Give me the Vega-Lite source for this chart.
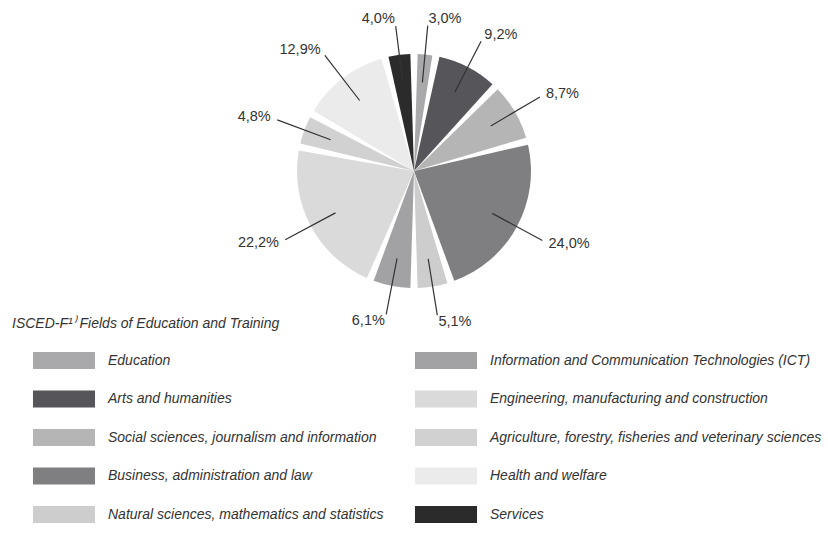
{
  "$schema": "https://vega.github.io/schema/vega-lite/v6.json",
  "width": 828,
  "height": 342,
  "autosize": {"type": "none"},
  "padding": {"left": 0, "top": 0, "right": 0, "bottom": 194},
  "background": "white",
  "view": {"stroke": null},
  "data": {
    "values": [
      {"idx": 1, "field": "Education", "share": 3.0, "label": "3,0%"},
      {"idx": 2, "field": "Arts and humanities", "share": 9.2, "label": "9,2%"},
      {"idx": 3, "field": "Social sciences, journalism and information", "share": 8.7, "label": "8,7%"},
      {"idx": 4, "field": "Business, administration and law", "share": 24.0, "label": "24,0%"},
      {"idx": 5, "field": "Natural sciences, mathematics and statistics", "share": 5.1, "label": "5,1%"},
      {"idx": 6, "field": "Information and Communication Technologies (ICT)", "share": 6.1, "label": "6,1%"},
      {"idx": 7, "field": "Engineering, manufacturing and construction", "share": 22.2, "label": "22,2%"},
      {"idx": 8, "field": "Agriculture, forestry, fisheries and veterinary sciences", "share": 4.8, "label": "4,8%"},
      {"idx": 9, "field": "Health and welfare", "share": 12.9, "label": "12,9%"},
      {"idx": 10, "field": "Services", "share": 4.0, "label": "4,0%"}
    ]
  },
  "encoding": {
    "theta": {"field": "share", "type": "quantitative", "stack": true},
    "order": {"field": "idx", "type": "quantitative", "sort": "ascending"},
    "detail": {"field": "field", "type": "nominal"}
  },
  "layer": [
    {
      "mark": {"type": "arc", "radius": 117, "padAngle": 0.062, "strokeWidth": 0},
      "encoding": {
        "color": {
          "field": "field",
          "type": "nominal",
          "scale": {
            "domain": [
              "Education",
              "Arts and humanities",
              "Social sciences, journalism and information",
              "Business, administration and law",
              "Natural sciences, mathematics and statistics",
              "Information and Communication Technologies (ICT)",
              "Engineering, manufacturing and construction",
              "Agriculture, forestry, fisheries and veterinary sciences",
              "Health and welfare",
              "Services"
            ],
            "range": ["#a9a9ab", "#56565a", "#b5b5b6", "#7f7f82", "#cdcdce", "#a2a2a4", "#dadadb", "#d1d1d2", "#ebebeb", "#2b2b2b"]
          },
          "legend": {
            "orient": "none",
            "legendX": 12,
            "legendY": 317,
            "title": "ISCED-F¹⁾ Fields of Education and Training",
            "titleFont": "Liberation Sans",
            "titleFontSize": 14,
            "titleFontStyle": "italic",
            "titleFontWeight": "normal",
            "titleColor": "#333333",
            "titlePadding": 21,
            "titleLimit": 500,
            "padding": 0,
            "columns": 2,
            "columnPadding": 10,
            "rowPadding": 21.5,
            "symbolType": "M-3.65,-1H3.65V1H-3.65Z",
            "symbolSize": 289,
            "symbolStrokeWidth": 0,
            "symbolOffset": 43.5,
            "labelFont": "Liberation Sans",
            "labelFontSize": 14,
            "labelFontStyle": "italic",
            "labelColor": "#333333",
            "labelOffset": 35.5,
            "labelLimit": 420
          }
        }
      }
    },
    {
      "mark": {"type": "arc", "radius": 146, "radius2": 89, "padAngle": 3, "filled": false, "stroke": "#333333", "strokeWidth": 1.2},
      "encoding": {}
    },
    {
      "mark": {"type": "text", "radius": 153, "font": "Liberation Sans", "fontSize": 14.5, "fill": "#333333", "align": "left", "baseline": "middle"},
      "encoding": {"text": {"condition": {"test": "datum.idx <= 5", "field": "label"}, "value": ""}}
    },
    {
      "mark": {"type": "text", "radius": 153, "font": "Liberation Sans", "fontSize": 14.5, "fill": "#333333", "align": "right", "baseline": "middle"},
      "encoding": {"text": {"condition": {"test": "datum.idx > 5", "field": "label"}, "value": ""}}
    }
  ]
}
